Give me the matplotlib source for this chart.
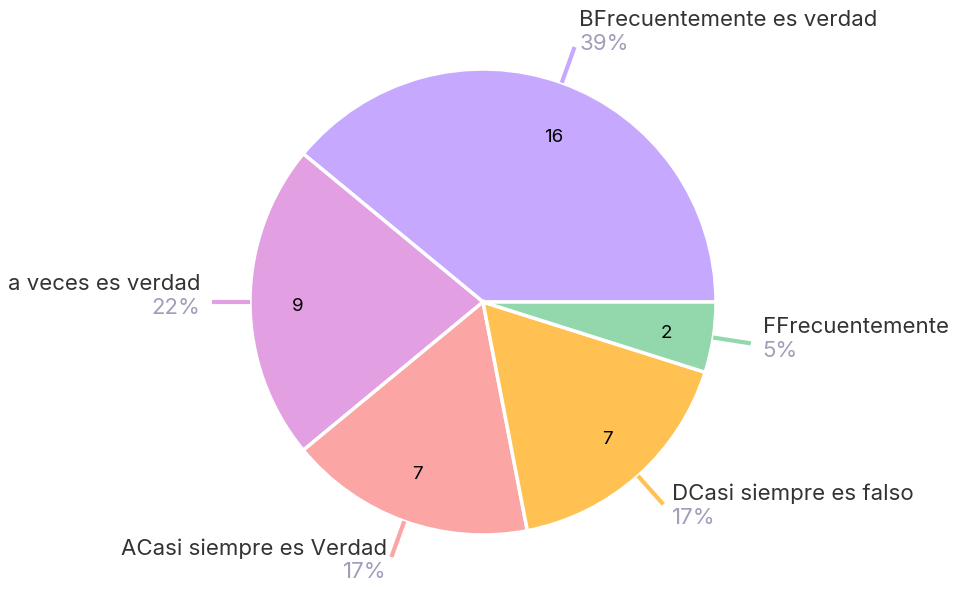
import numpy as np
import matplotlib.pyplot as plt

plt.rcParams['font.family'] = ['Inter', 'DejaVu Sans']

labels = ['BFrecuentemente es verdad', 'a veces es verdad', 'ACasi siempre es Verdad',
          'DCasi siempre es falso', 'FFrecuentemente']
values = [16, 9, 7, 7, 2]
percents = ['39%', '22%', '17%', '17%', '5%']
colors = ['#C6A9FF', '#E29FE2', '#FBA5A5', '#FFC252', '#93D8AC']

fig = plt.figure(figsize=(9.6, 5.89), dpi=100)
ax = fig.add_axes([0, 0, 1, 1])
ax.axis('off')

wedges, texts = ax.pie(values, colors=colors, startangle=0, counterclock=True,
                       radius=1, labels=[str(v) for v in values], labeldistance=0.77,
                       wedgeprops=dict(edgecolor='white', linewidth=2.5),
                       textprops=dict(fontsize=13.5, color='black'))
# 1 data unit = 233 px, pie centre at pixel (483, 302)
ax.set_xlim(-483 / 233, (960 - 483) / 233)
ax.set_ylim(-(589 - 302) / 233, 302 / 233)
ax.set_aspect('auto')

px = 1 / 233
for t in texts:
    x, y = t.get_position()
    t.set_position((x, y - 4 * px))

for w, name, pct, c in zip(wedges, labels, percents, colors):
    ang = np.deg2rad((w.theta1 + w.theta2) / 2)
    x0, y0 = np.cos(ang), np.sin(ang)
    x1, y1 = np.cos(ang) * (1 + 38 * px), np.sin(ang) * (1 + 38 * px)
    ax.plot([x0, x1], [y0, y1], color=c, lw=3, solid_capstyle='butt')
    gap = (11 * abs(np.cos(ang)) + 1) * px
    if x1 >= 0:
        tx, ha = x1 + gap, 'left'
    else:
        tx, ha = x1 - gap, 'right'
    py = y1 + (-6 + 10 * np.sin(ang)) * px
    ax.text(tx, py + 24 * px, name, ha=ha, va='center', fontsize=16, color='#333333')
    ax.text(tx, py, pct, ha=ha, va='center', fontsize=16, color='#A09EBB')

fig.savefig('out.png', dpi=100)
